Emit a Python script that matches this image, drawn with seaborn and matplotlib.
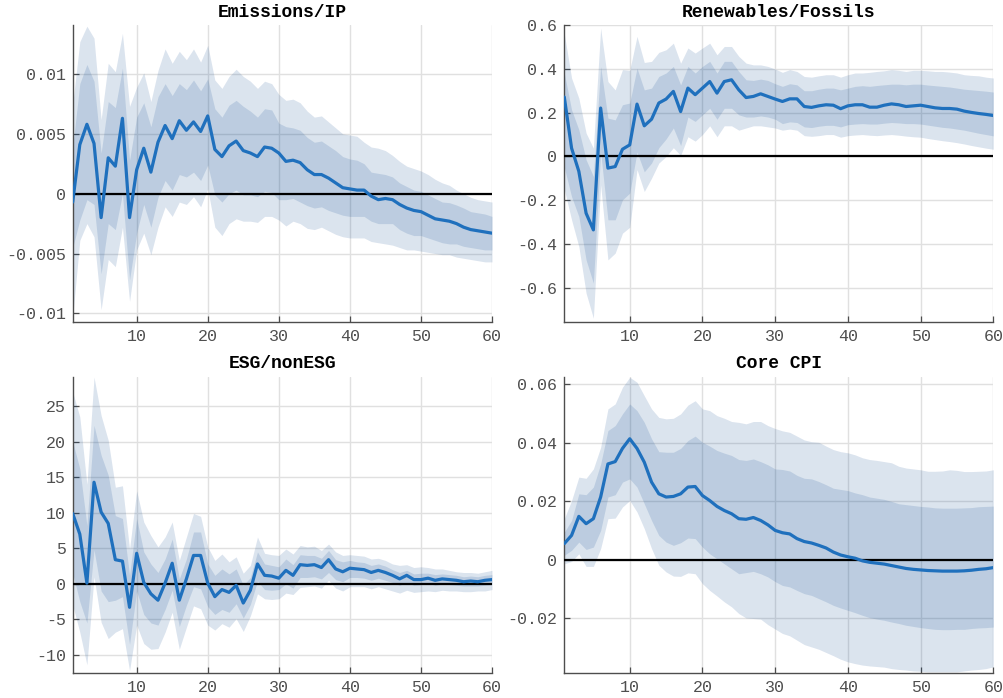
import numpy as np
import pandas as pd
import matplotlib
matplotlib.use("Agg")
import matplotlib.pyplot as plt
from matplotlib.ticker import FixedLocator, FuncFormatter
import seaborn as sns

# ---------------------------------------------------------------- data
horizon = list(range(1, 61))

titles = ["Emissions/IP", "Renewables/Fossils", "ESG/nonESG", "Core CPI"]

emis_med = [-0.0007, 0.0041, 0.0058, 0.0042, -0.0020, 0.0030, 0.0023, 0.0063, -0.0020, 0.0020,
            0.0038, 0.0018, 0.0043, 0.0057, 0.0046, 0.0061, 0.0053, 0.0060, 0.0052, 0.0065,
            0.0037, 0.0031, 0.0040, 0.0044, 0.0036, 0.0034, 0.0031, 0.0039, 0.0038, 0.0034,
            0.0027, 0.0028, 0.0026, 0.0020, 0.0016, 0.0016, 0.0013, 0.0009, 0.0005, 0.0004,
            0.0003, 0.0003, -0.0002, -0.0005, -0.0004, -0.0005, -0.0009, -0.0012, -0.0014, -0.0015,
            -0.0018, -0.0021, -0.0022, -0.0023, -0.0025, -0.0028, -0.0030, -0.0031, -0.0032, -0.0033]
emis_outer_hi = [0.0075, 0.0127, 0.0140, 0.0130, 0.0062, 0.0109, 0.0102, 0.0134, 0.0073, 0.0089,
                 0.0101, 0.0077, 0.0103, 0.0121, 0.0109, 0.0119, 0.0112, 0.0121, 0.0110, 0.0124,
                 0.0095, 0.0088, 0.0098, 0.0104, 0.0098, 0.0094, 0.0088, 0.0094, 0.0092, 0.0083,
                 0.0078, 0.0079, 0.0076, 0.0069, 0.0064, 0.0065, 0.0060, 0.0055, 0.0050, 0.0049,
                 0.0048, 0.0043, 0.0039, 0.0038, 0.0036, 0.0032, 0.0027, 0.0023, 0.0021, 0.0019,
                 0.0016, 0.0012, 0.0009, 0.0007, 0.0003, 0.0000, -0.0003, -0.0005, -0.0006, -0.0007]
emis_inner_hi = [0.0039, 0.0092, 0.0108, 0.0094, 0.0034, 0.0077, 0.0072, 0.0105, 0.0028, 0.0064,
                 0.0076, 0.0056, 0.0081, 0.0092, 0.0082, 0.0092, 0.0087, 0.0095, 0.0086, 0.0096,
                 0.0071, 0.0064, 0.0074, 0.0078, 0.0073, 0.0069, 0.0064, 0.0071, 0.0070, 0.0059,
                 0.0056, 0.0055, 0.0053, 0.0047, 0.0043, 0.0044, 0.0040, 0.0036, 0.0031, 0.0029,
                 0.0028, 0.0025, 0.0018, 0.0017, 0.0016, 0.0014, 0.0009, 0.0006, 0.0003, 0.0002,
                 -0.0001, -0.0004, -0.0007, -0.00075, -0.00095, -0.0012, -0.0015, -0.0016, -0.0017, -0.0019]
emis_inner_lo = [-0.0045, -0.0022, -0.0005, -0.0009, -0.0067, -0.0025, -0.0030, 0.0000, -0.0072, -0.0033,
                 -0.0009, -0.0028, -0.0003, 0.0011, 0.0003, 0.0016, 0.0014, 0.0018, 0.0011, 0.0024,
                 -0.0001, -0.0007, 0.0000, 0.0003, -0.0001, -0.0001, -0.00025, 0.0002, 0.0001, -0.0005,
                 -0.0005, -0.0004, -0.0007, -0.0010, -0.0012, -0.0011, -0.0014, -0.0016, -0.0018, -0.0019,
                 -0.0019, -0.0019, -0.0023, -0.0025, -0.0025, -0.0025, -0.0030, -0.0033, -0.0035, -0.0035,
                 -0.0037, -0.0039, -0.0041, -0.0042, -0.0042, -0.0044, -0.0045, -0.0046, -0.0047, -0.0047]
emis_outer_lo = [-0.0103, -0.0039, -0.0025, -0.0036, -0.0097, -0.0055, -0.0061, -0.0028, -0.0090, -0.0047,
                 -0.0033, -0.0051, -0.0028, -0.0011, -0.0019, -0.0007, -0.0009, -0.00025, -0.0011, 0.0004,
                 -0.0028, -0.0035, -0.0025, -0.0021, -0.0023, -0.0023, -0.0024, -0.0019, -0.0019, -0.0022,
                 -0.0027, -0.0023, -0.0025, -0.0029, -0.0030, -0.0028, -0.0031, -0.0034, -0.0036, -0.0037,
                 -0.0037, -0.0037, -0.0040, -0.0041, -0.0042, -0.0043, -0.0045, -0.0047, -0.0047, -0.0048,
                 -0.0049, -0.0050, -0.0051, -0.0051, -0.0053, -0.0054, -0.0055, -0.0056, -0.0057, -0.0057]

ren_med = [0.271, 0.038, -0.068, -0.259, -0.335, 0.221, -0.053, -0.046, 0.033, 0.053,
           0.239, 0.140, 0.170, 0.244, 0.262, 0.297, 0.205, 0.312, 0.282, 0.312,
           0.342, 0.289, 0.342, 0.350, 0.304, 0.269, 0.274, 0.286, 0.274, 0.262,
           0.251, 0.263, 0.263, 0.228, 0.224, 0.231, 0.236, 0.234, 0.218, 0.231,
           0.236, 0.236, 0.225, 0.225, 0.234, 0.240, 0.236, 0.228, 0.231, 0.234,
           0.228, 0.222, 0.219, 0.219, 0.216, 0.207, 0.201, 0.196, 0.192, 0.187]
ren_outer_hi = [0.560, 0.358, 0.266, 0.107, 0.038, 0.586, 0.342, 0.304, 0.396, 0.393,
                0.548, 0.429, 0.434, 0.475, 0.487, 0.517, 0.426, 0.495, 0.472, 0.495,
                0.517, 0.464, 0.502, 0.502, 0.457, 0.426, 0.418, 0.418, 0.411, 0.399,
                0.384, 0.396, 0.388, 0.365, 0.362, 0.368, 0.373, 0.373, 0.362, 0.373,
                0.381, 0.381, 0.384, 0.388, 0.391, 0.396, 0.393, 0.388, 0.393, 0.393,
                0.391, 0.388, 0.388, 0.385, 0.381, 0.373, 0.370, 0.368, 0.362, 0.358]
ren_inner_hi = [0.380, 0.213, 0.122, -0.015, -0.091, 0.411, 0.175, 0.167, 0.236, 0.244,
                0.403, 0.304, 0.312, 0.365, 0.381, 0.411, 0.327, 0.411, 0.381, 0.411,
                0.434, 0.381, 0.434, 0.434, 0.388, 0.350, 0.347, 0.353, 0.347, 0.332,
                0.320, 0.332, 0.327, 0.300, 0.300, 0.307, 0.312, 0.312, 0.304, 0.312,
                0.320, 0.323, 0.320, 0.324, 0.327, 0.330, 0.330, 0.327, 0.330, 0.330,
                0.326, 0.323, 0.320, 0.317, 0.312, 0.307, 0.304, 0.301, 0.298, 0.294]
ren_inner_lo = [-0.050, -0.183, -0.274, -0.472, -0.578, 0.020, -0.289, -0.289, -0.198, -0.167,
                0.020, -0.070, -0.030, 0.040, 0.080, 0.130, 0.050, 0.180, 0.160, 0.190,
                0.220, 0.170, 0.220, 0.220, 0.190, 0.180, 0.180, 0.185, 0.180, 0.170,
                0.150, 0.158, 0.155, 0.135, 0.132, 0.138, 0.142, 0.142, 0.135, 0.145,
                0.148, 0.150, 0.148, 0.148, 0.152, 0.155, 0.153, 0.150, 0.150, 0.148,
                0.143, 0.138, 0.133, 0.130, 0.125, 0.120, 0.113, 0.106, 0.100, 0.094]
ren_outer_lo = [-0.150, -0.289, -0.411, -0.624, -0.738, -0.130, -0.472, -0.441, -0.350, -0.323,
                -0.060, -0.160, -0.099, -0.030, 0.000, 0.040, 0.005, 0.090, 0.070, 0.100,
                0.140, 0.090, 0.140, 0.140, 0.120, 0.130, 0.140, 0.140, 0.135, 0.130,
                0.120, 0.125, 0.120, 0.095, 0.092, 0.095, 0.100, 0.100, 0.088, 0.095,
                0.098, 0.100, 0.097, 0.095, 0.098, 0.100, 0.097, 0.093, 0.090, 0.088,
                0.082, 0.077, 0.072, 0.068, 0.063, 0.057, 0.050, 0.044, 0.038, 0.033]

esg_med = [9.9, 7.0, 0.1, 14.3, 10.1, 8.5, 3.4, 3.2, -3.3, 4.3,
           0.2, -1.4, -2.3, 0.1, 2.9, -2.3, 0.7, 4.0, 4.0, 0.1,
           -1.8, -0.8, -1.2, -0.2, -2.7, -0.9, 2.8, 1.2, 1.1, 0.8,
           1.9, 1.2, 2.7, 2.6, 2.7, 2.3, 3.4, 2.1, 1.7, 2.2,
           2.1, 2.0, 1.6, 1.9, 1.6, 1.2, 0.7, 1.2, 0.6, 0.6,
           0.8, 0.5, 0.7, 0.6, 0.5, 0.3, 0.4, 0.3, 0.5, 0.6]
esg_outer_hi = [27.0, 23.5, 14.0, 29.1, 23.7, 20.2, 13.6, 13.8, 4.9, 13.1,
                8.7, 6.8, 5.2, 6.6, 8.7, 3.3, 6.6, 9.9, 9.5, 5.2,
                3.3, 4.2, 3.1, 3.8, 1.5, 2.6, 6.6, 4.3, 4.1, 4.0,
                4.9, 4.2, 5.4, 5.2, 5.3, 4.7, 5.6, 4.5, 4.0, 4.1,
                4.0, 3.9, 3.5, 3.6, 3.3, 2.8, 2.6, 2.7, 2.3, 2.4,
                2.3, 2.1, 2.1, 1.9, 1.7, 1.6, 1.6, 1.5, 1.7, 1.9]
esg_inner_hi = [20.0, 16.2, 8.2, 22.3, 18.1, 15.3, 9.6, 9.2, 1.2, 9.2,
                4.5, 2.8, 1.6, 3.5, 6.3, 0.7, 3.5, 7.3, 7.3, 2.8,
                1.2, 2.1, 1.4, 2.1, -0.2, 0.9, 4.5, 2.8, 2.6, 2.4,
                3.5, 2.7, 4.1, 4.0, 4.0, 3.6, 4.7, 3.4, 3.1, 3.3,
                3.1, 3.0, 2.6, 2.8, 2.5, 2.0, 1.6, 1.9, 1.4, 1.5,
                1.5, 1.3, 1.4, 1.3, 1.2, 1.0, 1.1, 1.0, 1.2, 1.3]
esg_inner_lo = [1.5, -2.5, -5.5, 4.8, -1.0, -2.5, -2.3, -1.8, -8.5, -1.0,
                -4.3, -5.5, -5.8, -3.6, -0.9, -6.0, -3.0, -0.4, -0.7, -3.2,
                -4.3, -3.6, -4.0, -2.8, -4.8, -2.9, 0.4, -0.8, -0.9, -0.8,
                0.0, -0.6, 0.9, 0.9, 1.0, 0.7, 1.6, 0.6, 0.3, 0.9,
                0.9, 0.8, 0.5, 0.8, 0.5, 0.2, -0.2, 0.2, -0.2, -0.1,
                0.1, -0.2, 0.0, -0.1, -0.2, -0.3, -0.3, -0.3, -0.2, -0.1]
esg_outer_lo = [-3.0, -6.8, -11.4, 1.0, -5.4, -7.7, -6.8, -6.3, -12.2, -5.8,
                -8.4, -9.2, -9.1, -6.8, -4.0, -9.2, -6.1, -3.1, -3.5, -5.8,
                -6.5, -5.6, -6.1, -4.9, -6.7, -4.5, -1.4, -2.1, -2.2, -2.1,
                -1.3, -1.5, -0.5, -0.4, -0.3, -0.6, 0.5, -0.6, -1.0, -0.4,
                -0.4, -0.4, -0.7, -0.4, -0.7, -1.0, -1.3, -0.9, -1.2, -1.1,
                -1.0, -1.1, -0.9, -1.0, -1.0, -1.1, -1.1, -1.0, -1.0, -0.8]

cpi_med = [0.0055, 0.0083, 0.0148, 0.0123, 0.0140, 0.0214, 0.0327, 0.0335, 0.0380, 0.0413,
           0.0380, 0.0333, 0.0265, 0.0225, 0.0214, 0.0216, 0.0225, 0.0248, 0.0250, 0.0219,
           0.0202, 0.0182, 0.0168, 0.0157, 0.0140, 0.0138, 0.0144, 0.0134, 0.0119, 0.0100,
           0.0092, 0.0088, 0.0072, 0.0062, 0.0057, 0.0049, 0.0040, 0.0026, 0.0016, 0.0010,
           0.0005, -0.0004, -0.0009, -0.0012, -0.0015, -0.0020, -0.0025, -0.0030, -0.0033, -0.0035,
           -0.0037, -0.0038, -0.0039, -0.0039, -0.0039, -0.0038, -0.0036, -0.0033, -0.0031, -0.0027]
cpi_outer_hi = [0.0140, 0.0202, 0.0282, 0.0278, 0.0310, 0.0384, 0.0515, 0.0532, 0.0589, 0.0623,
                0.0606, 0.0560, 0.0515, 0.0486, 0.0481, 0.0483, 0.0498, 0.0528, 0.0543, 0.0515,
                0.0509, 0.0492, 0.0483, 0.0472, 0.0469, 0.0464, 0.0472, 0.0472, 0.0458, 0.0448,
                0.0440, 0.0435, 0.0422, 0.0409, 0.0403, 0.0401, 0.0388, 0.0376, 0.0369, 0.0365,
                0.0358, 0.0348, 0.0342, 0.0339, 0.0335, 0.0331, 0.0319, 0.0313, 0.0310, 0.0307,
                0.0302, 0.0302, 0.0303, 0.0307, 0.0305, 0.0301, 0.0301, 0.0302, 0.0303, 0.0307]
cpi_inner_hi = [0.0094, 0.0134, 0.0225, 0.0222, 0.0248, 0.0327, 0.0441, 0.0458, 0.0498, 0.0532,
                0.0509, 0.0469, 0.0413, 0.0369, 0.0367, 0.0367, 0.0380, 0.0407, 0.0422, 0.0401,
                0.0388, 0.0373, 0.0364, 0.0356, 0.0342, 0.0339, 0.0344, 0.0335, 0.0324, 0.0310,
                0.0308, 0.0303, 0.0288, 0.0278, 0.0276, 0.0267, 0.0256, 0.0244, 0.0240, 0.0236,
                0.0228, 0.0222, 0.0214, 0.0210, 0.0206, 0.0199, 0.0191, 0.0188, 0.0185, 0.0182,
                0.0180, 0.0177, 0.0176, 0.0176, 0.0176, 0.0177, 0.0178, 0.0181, 0.0182, 0.0183]
cpi_inner_lo = [0.0015, 0.0032, 0.0060, 0.0035, 0.0043, 0.0100, 0.0214, 0.0222, 0.0265, 0.0276,
                0.0248, 0.0191, 0.0134, 0.0083, 0.0060, 0.0049, 0.0058, 0.0074, 0.0072, 0.0043,
                0.0020, 0.0003, -0.0014, -0.0031, -0.0048, -0.0044, -0.0040, -0.0048, -0.0059, -0.0075,
                -0.0088, -0.0093, -0.0105, -0.0116, -0.0122, -0.0133, -0.0144, -0.0156, -0.0165, -0.0173,
                -0.0181, -0.0190, -0.0198, -0.0203, -0.0207, -0.0213, -0.0218, -0.0224, -0.0228, -0.0232,
                -0.0235, -0.0238, -0.0239, -0.0239, -0.0238, -0.0238, -0.0235, -0.0233, -0.0232, -0.0230]
cpi_outer_lo = [-0.0014, -0.0006, 0.0020, -0.0023, -0.0023, 0.0038, 0.0140, 0.0142, 0.0180, 0.0202,
                0.0163, 0.0106, 0.0038, -0.0019, -0.0042, -0.0056, -0.0057, -0.0045, -0.0048, -0.0082,
                -0.0105, -0.0124, -0.0144, -0.0161, -0.0184, -0.0199, -0.0201, -0.0203, -0.0222, -0.0237,
                -0.0252, -0.0260, -0.0275, -0.0290, -0.0298, -0.0306, -0.0317, -0.0328, -0.0340, -0.0349,
                -0.0355, -0.0360, -0.0363, -0.0365, -0.0367, -0.0372, -0.0375, -0.0377, -0.0380, -0.0381,
                -0.0383, -0.0383, -0.0383, -0.0383, -0.0383, -0.0380, -0.0377, -0.0375, -0.0372, -0.0366]

x_ticks = [10, 20, 30, 40, 50, 60]
emis_ticks = [-0.01, -0.005, 0, 0.005, 0.01]
ren_ticks = [-0.6, -0.4, -0.2, 0, 0.2, 0.4, 0.6]
esg_ticks = [-10, -5, 0, 5, 10, 15, 20, 25]
cpi_ticks = [-0.02, 0, 0.02, 0.04, 0.06]

# ---------------------------------------------------------------- style
sns.set_theme(style="white")
plt.rcParams["font.family"] = ["Liberation Mono", "DejaVu Sans Mono"]
plt.rcParams["axes.unicode_minus"] = False

LINE_BLUE = "#1f70bd"
BAND_BLUE = "#00408c"
GRID_GREY = "#e0e0e0"
AXIS_GREY = "#4d4d4d"
LABEL_GREY = "#4f4f4f"

panels = [
    dict(title=titles[0], med=emis_med, ilo=emis_inner_lo, ihi=emis_inner_hi,
         olo=emis_outer_lo, ohi=emis_outer_hi, ylim=(-0.0107, 0.0141), yticks=emis_ticks),
    dict(title=titles[1], med=ren_med, ilo=ren_inner_lo, ihi=ren_inner_hi,
         olo=ren_outer_lo, ohi=ren_outer_hi, ylim=(-0.754, 0.6), yticks=ren_ticks),
    dict(title=titles[2], med=esg_med, ilo=esg_inner_lo, ihi=esg_inner_hi,
         olo=esg_outer_lo, ohi=esg_outer_hi, ylim=(-12.5, 29.15), yticks=esg_ticks),
    dict(title=titles[3], med=cpi_med, ilo=cpi_inner_lo, ihi=cpi_inner_hi,
         olo=cpi_outer_lo, ohi=cpi_outer_hi, ylim=(-0.0386, 0.0625), yticks=cpi_ticks),
]

W, H = 1004, 698
fig = plt.figure(figsize=(W / 100, H / 100), dpi=100)

# axes boxes in pixels: (left, top, right, bottom)
boxes = [(72.7, 25.0, 492.0, 321.7), (564.3, 25.0, 993.3, 321.7),
         (72.7, 376.7, 492.0, 672.7), (564.3, 376.7, 993.3, 672.7)]


def tick_text(v, pos):
    if abs(v) < 1e-12:
        return "0"
    return f"{v:g}"


for p, (l, t, r, b) in zip(panels, boxes):
    ax = fig.add_axes([l / W, 1 - b / H, (r - l) / W, (b - t) / H])
    df = pd.DataFrame({"h": horizon, "med": p["med"], "ilo": p["ilo"], "ihi": p["ihi"],
                       "olo": p["olo"], "ohi": p["ohi"]})

    # outer and inner credible bands, same tint layered
    ax.fill_between(df["h"], df["olo"], df["ohi"], color=BAND_BLUE, alpha=0.14,
                    linewidth=0, zorder=2)
    ax.fill_between(df["h"], df["ilo"], df["ihi"], color=BAND_BLUE, alpha=0.14,
                    linewidth=0, zorder=2.1)
    ax.axhline(0, color="black", linewidth=1.6, zorder=3)
    sns.lineplot(data=df, x="h", y="med", ax=ax, color=LINE_BLUE, linewidth=2.3,
                 zorder=4, legend=False)

    ax.set_xlim(1, 60)
    ax.set_ylim(*p["ylim"])
    ax.xaxis.set_major_locator(FixedLocator(x_ticks))
    ax.yaxis.set_major_locator(FixedLocator(p["yticks"]))
    ax.yaxis.set_major_formatter(FuncFormatter(tick_text))
    ax.xaxis.set_major_formatter(FuncFormatter(tick_text))

    ax.grid(True, color=GRID_GREY, linewidth=1.0, zorder=0)
    ax.set_axisbelow(True)
    for side in ("top", "right"):
        ax.spines[side].set_visible(False)
    for side in ("left", "bottom"):
        ax.spines[side].set_color(AXIS_GREY)
        ax.spines[side].set_linewidth(1.0)

    ax.tick_params(axis="both", direction="in", length=4, width=0.9, color=AXIS_GREY,
                   labelsize=12, labelcolor=LABEL_GREY, pad=5)
    ax.tick_params(axis="both", which="both", left=True, bottom=True)
    ax.set_xlabel("")
    ax.set_ylabel("")
    ax.set_title(p["title"], fontsize=13, fontweight="bold", color="black", pad=6)

fig.savefig("out.png", dpi=100, facecolor="white")
